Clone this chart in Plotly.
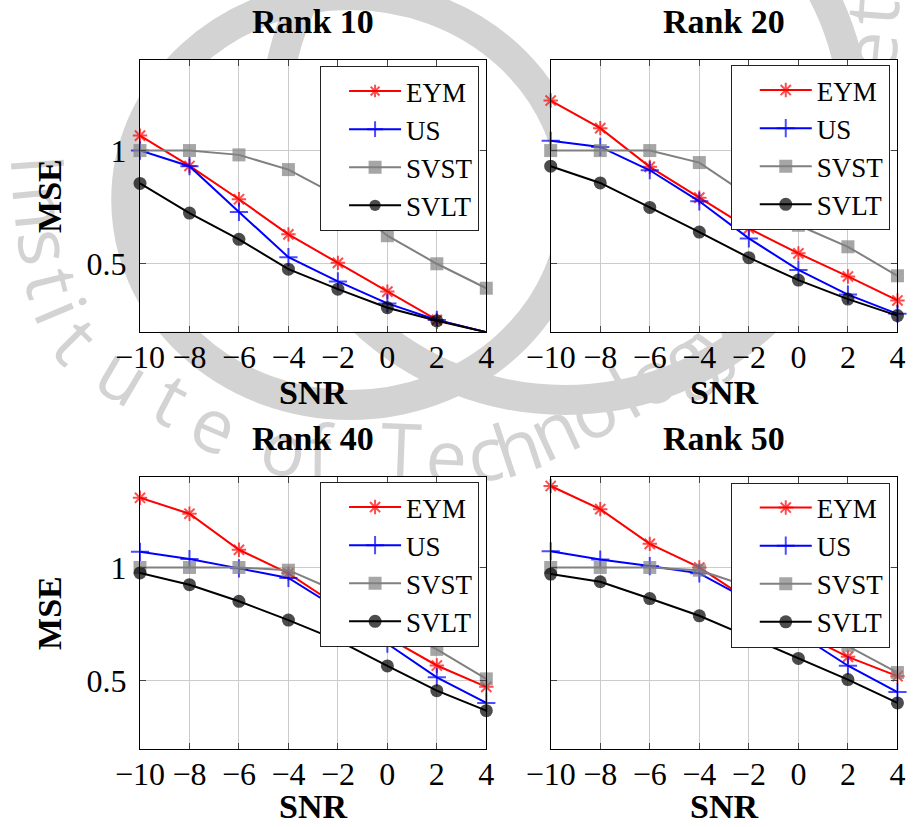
import math
import plotly.graph_objects as go

# ---------------------------------------------------------------- data
snr = [-10, -8, -6, -4, -2, 0, 2, 4]

eym_r10 = [1.066, 0.932, 0.785, 0.630, 0.504, 0.377, 0.252, 0.198]
us_r10 = [1.000, 0.931, 0.729, 0.529, 0.422, 0.325, 0.252, 0.198]
svst_r10 = [1.000, 1.000, 0.981, 0.916, 0.800, 0.624, 0.500, 0.392]
svlt_r10 = [0.855, 0.724, 0.608, 0.476, 0.388, 0.306, 0.248, 0.198]

eym_r20 = [1.221, 1.099, 0.928, 0.792, 0.656, 0.546, 0.444, 0.338]
us_r20 = [1.043, 1.016, 0.913, 0.776, 0.612, 0.473, 0.364, 0.279]
svst_r20 = [1.000, 1.000, 1.000, 0.947, 0.800, 0.670, 0.575, 0.447]
svlt_r20 = [0.931, 0.857, 0.749, 0.640, 0.527, 0.428, 0.344, 0.271]

eym_r40 = [1.307, 1.237, 1.078, 0.974, 0.830, 0.692, 0.568, 0.474]
us_r40 = [1.069, 1.037, 0.996, 0.954, 0.818, 0.664, 0.516, 0.403]
svst_r40 = [1.000, 1.000, 1.000, 0.988, 0.893, 0.750, 0.639, 0.509]
svlt_r40 = [0.976, 0.924, 0.851, 0.768, 0.679, 0.566, 0.457, 0.369]

eym_r50 = [1.359, 1.257, 1.104, 1.000, 0.856, 0.715, 0.606, 0.521]
us_r50 = [1.071, 1.035, 1.006, 0.974, 0.856, 0.708, 0.567, 0.451]
svst_r50 = [1.000, 1.000, 1.000, 0.988, 0.915, 0.770, 0.655, 0.537]
svlt_r50 = [0.971, 0.937, 0.863, 0.787, 0.694, 0.599, 0.506, 0.403]

panel_titles = ["Rank 10", "Rank 20", "Rank 40", "Rank 50"]
method_names = ["EYM", "US", "SVST", "SVLT"]
x_ticks = [-10, -8, -6, -4, -2, 0, 2, 4]
y_ticks = [0.5, 1]
y_tick_text = ["0.5", "1"]
Y_MIN, Y_MAX = 0.2, 1.4

panels = [
    [eym_r10, us_r10, svst_r10, svlt_r10],
    [eym_r20, us_r20, svst_r20, svlt_r20],
    [eym_r40, us_r40, svst_r40, svlt_r40],
    [eym_r50, us_r50, svst_r50, svlt_r50],
]

# ---------------------------------------------------------------- styling
W, H = 918, 827
SERIF = "Liberation Serif"
styles = {
    "EYM": dict(color="#ff0000", symbol="asterisk-open", size=12),
    "US": dict(color="#0000ff", symbol="cross-thin-open", size=13),
    "SVST": dict(color="#808080", symbol="square", size=13),
    "SVLT": dict(color="#000000", symbol="circle", size=13),
}

# plot-area boxes in pixels: (left, top, right, bottom)
boxes = [
    (119.3, 60.0, 478.5, 331.7),
    (545.3, 60.0, 905.0, 331.7),
    (119.3, 476.7, 478.5, 749.0),
    (545.3, 476.7, 905.0, 749.0),
]
legend_anchor = [(471, 66), (897, 65), (471, 482), (897, 482.5)]


def px(x):
    return x / W


def py(y):
    return 1 - y / H


fig = go.Figure()
legend_keys = ["legend", "legend2", "legend3", "legend4"]

for i, series in enumerate(panels):
    ax = "" if i == 0 else str(i + 1)
    for name, vals in zip(method_names, series):
        st = styles[name]
        # points below the axis floor get no marker (the line is clipped there)
        sizes = [st["size"] if v >= Y_MIN else 0 for v in vals]
        filled = st["symbol"] in ("square", "circle")
        fig.add_trace(go.Scatter(
            x=snr, y=vals, name=name, mode="lines+markers",
            xaxis="x" + ax, yaxis="y" + ax,
            legend=legend_keys[i],
            line=dict(color=st["color"], width=2),
            marker=dict(symbol=st["symbol"], size=sizes, color=st["color"],
                        line=dict(color=st["color"], width=0 if filled else 2)),
            cliponaxis=False,
        ))

layout = dict(
    width=W, height=H,
    margin=dict(l=0, r=0, t=0, b=0),
    paper_bgcolor="white", plot_bgcolor="white",
    font=dict(family=SERIF, size=30, color="black"),
    showlegend=True,
)

for i, (l, t, r, b) in enumerate(boxes):
    ax = "" if i == 0 else str(i + 1)
    common = dict(
        showline=True, linecolor="black", linewidth=1, mirror="ticks",
        ticks="inside", ticklen=6, tickcolor="#444", tickwidth=1,
        showgrid=True, gridcolor="#cccccc", gridwidth=1,
        zeroline=False, tickfont=dict(family=SERIF, size=32, color="black"),
    )
    layout["xaxis" + ax] = dict(
        common, domain=[px(l), px(r)], range=[-10, 4],
        tickvals=x_ticks, anchor="y" + ax, ticklabelstandoff=-3,
    )
    layout["yaxis" + ax] = dict(
        common, domain=[py(b), py(t)], range=[Y_MIN, Y_MAX],
        tickvals=y_ticks, ticktext=y_tick_text, anchor="x" + ax,
        showticklabels=(i % 2 == 0), ticklabelstandoff=6,
    )
    lx, ly = legend_anchor[i]
    layout[legend_keys[i]] = dict(
        x=px(lx), y=py(ly), xanchor="right", yanchor="top",
        xref="paper", yref="paper",
        bgcolor="white", bordercolor="#222", borderwidth=1,
        font=dict(family=SERIF, size=27, color="black"),
        tracegroupgap=0, itemwidth=52, indentation=23,
    )

fig.update_layout(**layout)

# ---------------------------------------------------------------- watermark
WM = "#d3d3d3"
shapes = []
# seal rings
for (cx, cy, rx, ry) in [(337, 200, 232, 205), (560, 120, 300, 280)]:
    shapes.append(dict(type="circle", xref="paper", yref="paper", layer="below",
                       x0=px(cx - rx), x1=px(cx + rx), y0=py(cy + ry), y1=py(cy - ry),
                       line=dict(color=WM, width=30), fillcolor="rgba(0,0,0,0)"))

# seal lettering, one glyph per anchor point
seal_letters = list("Institute") + list("of") + list("Technology")
seal_pts = [(10, 165), (13, 207), (18, 247), (25, 284), (34, 312), (50, 343),
            (100, 378), (150, 402), (195, 428),
            (268, 452), (305, 455),
            (390, 453), (437, 460), (478, 457), (512, 450), (550, 433),
            (590, 414), (624, 396), (652, 380), (687, 360), (718, 340)]


def glyph_shape(ch, x, y, ang):
    return dict(type="rect", xref="paper", yref="paper", layer="below",
                x0=px(x - 1), x1=px(x + 1), y0=py(y + 1), y1=py(y - 1),
                line=dict(width=0), fillcolor="rgba(0,0,0,0)",
                label=dict(text=ch, textangle=ang, textposition="middle center",
                           padding=0,
                           font=dict(family="Open Sans", size=74, color=WM)))


n = len(seal_pts)
for k, (ch, (x, y)) in enumerate(zip(seal_letters, seal_pts)):
    a = seal_pts[max(k - 1, 0)]
    b = seal_pts[min(k + 1, n - 1)]
    ang = math.degrees(math.atan2(b[1] - a[1], b[0] - a[0]))
    shapes.append(glyph_shape(ch, x, y, ang))
shapes.append(glyph_shape("e", 880, 52, -84))
shapes.append(glyph_shape("t", 882, 12, -86))

# white plot areas over the watermark
for (l, t, r, b) in boxes:
    shapes.append(dict(type="rect", xref="paper", yref="paper", layer="below",
                       x0=px(l), x1=px(r), y0=py(b), y1=py(t),
                       line=dict(width=0), fillcolor="white"))
fig.update_layout(shapes=shapes)

# ---------------------------------------------------------------- titles
annotations = []
for i, (l, t, r, b) in enumerate(boxes):
    cxp = (l + r) / 2
    annotations.append(dict(x=px(cxp), y=py(t - 38), xref="paper", yref="paper",
                            text="<b>%s</b>" % panel_titles[i], showarrow=False,
                            font=dict(family=SERIF, size=34, color="black"),
                            xanchor="center", yanchor="middle"))
    snr_off = 81 if i < 2 else 78
    annotations.append(dict(x=px(cxp), y=py(b + snr_off), xref="paper", yref="paper",
                            text="<b>SNR</b>", showarrow=False,
                            font=dict(family=SERIF, size=34, color="black"),
                            xanchor="center", yanchor="bottom"))
    if i % 2 == 0:
        annotations.append(dict(x=px(26), y=py((t + b) / 2), xref="paper", yref="paper",
                                text="<b>MSE</b>", showarrow=False, textangle=-90,
                                font=dict(family=SERIF, size=34, color="black"),
                                xanchor="center", yanchor="middle"))

fig.update_layout(annotations=annotations)
fig.write_html("out.html")
